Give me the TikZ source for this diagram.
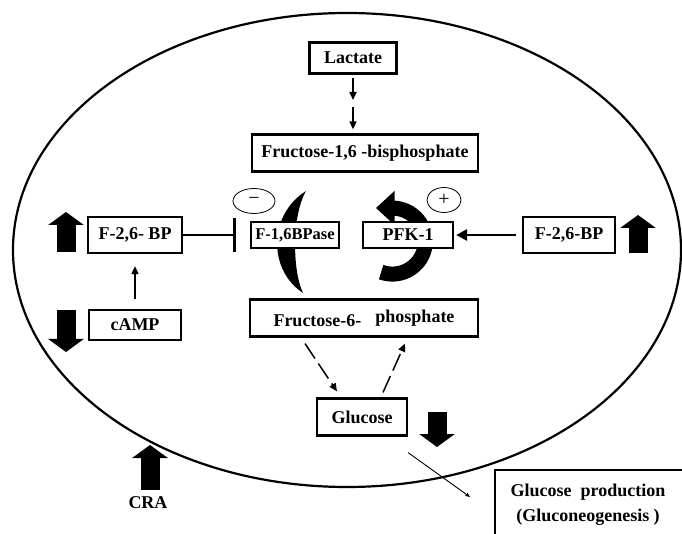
\documentclass[tikz,border=0pt]{standalone}
\usepackage{fontspec}
\setmainfont{Liberation Serif}
\usetikzlibrary{arrows.meta,shapes.geometric}
\begin{document}
\begin{tikzpicture}[x=1pt,y=1pt,
  box/.style={draw, line width=2.2pt, fill=white, inner sep=0pt,
    font=\fontsize{18}{20}\selectfont\bfseries},
  lbl/.style={inner sep=0pt, font=\fontsize{18}{25}\selectfont\bfseries},
  arr/.style={line width=1.6pt, -{Triangle[length=8pt,width=7pt]}},
  thickarr/.style={line width=2.6pt, -{Triangle[length=11pt,width=11pt]}},
  inhib/.style={line width=2.6pt, -{Bar[width=34pt,line width=3pt]}},
  dasharr/.style={line width=1.5pt, dash pattern=on 18pt off 6pt, -{Triangle[length=8pt,width=7pt]}},
  fatarrow/.style={line width=19pt, -{Triangle[width=35pt,length=13pt]}},
  cycbody/.style={line width=15pt},
  sign/.style={draw, ellipse, line width=0.8pt, inner sep=0pt, font=\fontsize{20}{20}\selectfont}
]
\useasboundingbox (0,0) rectangle (682,533);

% cell
\draw[line width=2.2pt] (347,283) ellipse [x radius=334pt, y radius=237pt];

% cycle arrows (behind boxes)
\fill (306,342) .. controls (268,318) and (268,263) .. (303,240)
      .. controls (292,263) and (292,318) .. (306,342) -- cycle;
\draw[cycbody] (381.1,260.9) arc[start angle=-110, end angle=90, radius=33pt];
\fill (394.5,342) -- (376,325) -- (394.5,308) -- cycle;

% nodes
\node[box, minimum width=87pt, minimum height=31pt] (lac) at (353,475) {Lactate};
\node[box, minimum width=226pt, minimum height=37pt] (f16) at (365,380) {Fructose-1,6 -bisphosphate};
\node[box, minimum width=88pt, minimum height=26pt, font=\fontsize{16.5}{20}\selectfont\bfseries] (bpase) at (295,298) {F-1,6BPase};
\node[box, minimum width=90pt, minimum height=26pt] (pfk) at (408,298) {PFK-1};
\node[box, minimum width=94pt, minimum height=36pt] (lf26) at (135,298) {F-2,6- BP};
\node[box, minimum width=92pt, minimum height=30pt] (camp) at (135,208) {cAMP};
\node[box, minimum width=92pt, minimum height=36pt] (rf26) at (569,298) {F-2,6-BP};
\node[box, minimum width=228pt, minimum height=37pt] (f6p) at (364,215) {Fructose-6-\hspace{14pt}\raisebox{4pt}{phosphate}};
\node[box, minimum width=90pt, minimum height=37pt] (glu) at (362,116) {Glucose};
\node[sign, minimum width=42pt, minimum height=25pt] (minus) at (254,332) {−};
\node[sign, minimum width=34pt, minimum height=25pt] (plus) at (444,333) {+};
\node[lbl] (cra) at (148,30) {CRA};

% glucose production box
\draw[line width=2pt, fill=white] (495,63) rectangle (700,-10);
\node[lbl, align=center] (gp) at (588,28) {Glucose\ \ production\\(Gluconeogenesis )};

% coordinates
\coordinate (c1) at (353,433);
\coordinate (c2) at (353,426);
\coordinate (gpin) at (470,36);

% connectors
\draw[arr, shorten <=3pt] (lac.south) -- (c1);
\draw[arr, shorten >=4pt] (c2) -- (c2 |- f16.north);
\draw[inhib, shorten >=14pt] (lf26.east) -- (bpase.west);
\draw[arr, shorten <=10pt, shorten >=12pt] (camp.north) -- (lf26.south);
\draw[thickarr, shorten <=6pt, shorten >=2pt] (rf26.west) -- (pfk.east);
\draw[dasharr] ([xshift=-59pt,yshift=-6pt]f6p.south) -- ([xshift=-25pt,yshift=6pt]glu.north);
\draw[dasharr] ([xshift=21pt,yshift=5pt]glu.north) -- ([xshift=41pt,yshift=-6pt]f6p.south);
\draw[line width=0.9pt, -{Stealth[length=5pt,width=4pt]}] ([yshift=-16pt]glu.south east) -- (gpin);

% fat indicator arrows
\draw[fatarrow] (66,281) -- (66,321);
\draw[fatarrow] (66,223) -- (66,181);
\draw[fatarrow] (638,280) -- (638,318);
\draw[fatarrow] (437,121) -- (437,86);
\draw[fatarrow] (150,43) -- (150,88);
\end{tikzpicture}
\end{document}
